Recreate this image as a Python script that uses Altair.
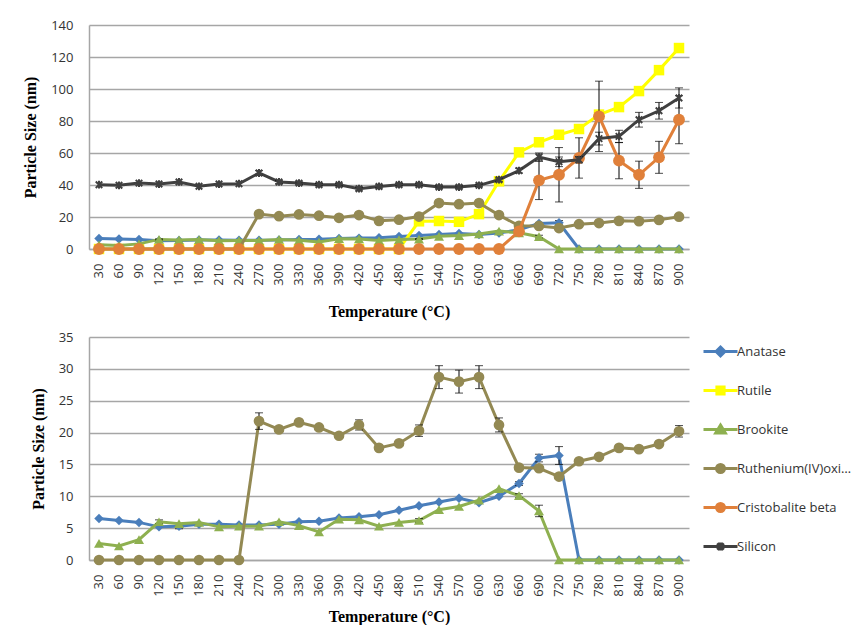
import altair as alt
import pandas as pd

temps = list(range(30, 901, 30))
temp_labels = [str(t) for t in temps]

series_names = ["Anatase", "Rutile", "Brookite", "Ruthenium(IV)oxide", "Cristobalite beta", "Silicon"]
colors = ["#4A7EBB", "#FFFF00", "#8EB050", "#938953", "#E0803A", "#404040"]

anatase = [6.5, 6.2, 5.9, 5.2, 5.3, 5.6, 5.6, 5.5, 5.5, 5.6,
           6.0, 6.1, 6.6, 6.8, 7.1, 7.8, 8.5, 9.1, 9.7, 9.0,
           10.0, 12.0, 16.0, 16.4, 0, 0, 0, 0, 0, 0]
rutile = [0, 0, 0, 0, 0, 0, 0, 0, 0, 0,
          0, 0, 0, 0, 0, 0, 17.3, 17.5, 17.0, 21.8,
          42.3, 60.4, 66.7, 71.4, 75.0, 84.0, 88.7, 98.7, 111.8, 125.6]
brookite = [2.6, 2.2, 3.2, 6.0, 5.7, 5.9, 5.2, 5.3, 5.3, 6.0,
            5.4, 4.4, 6.4, 6.3, 5.3, 5.9, 6.2, 7.9, 8.4, 9.4,
            11.2, 10.1, 7.7, 0, 0, 0, 0, 0, 0, 0]
ruthenium = [0, 0, 0, 0, 0, 0, 0, 0, 21.8, 20.5,
             21.6, 20.8, 19.5, 21.2, 17.6, 18.3, 20.3, 28.7, 28.0, 28.7,
             21.2, 14.5, 14.4, 13.1, 15.5, 16.2, 17.6, 17.4, 18.2, 20.2]
cristobalite = [0, 0, 0, 0, 0, 0, 0, 0, 0, 0,
                0, 0, 0, 0, 0, 0, 0, 0, 0, 0,
                0, 11.0, 42.9, 46.4, 56.9, 82.9, 55.2, 46.4, 57.3, 80.8]
silicon = [40.2, 39.8, 41.2, 40.6, 41.9, 39.2, 40.6, 40.8, 47.5, 41.9,
           41.2, 40.2, 40.2, 37.7, 39.1, 40.2, 40.2, 38.7, 38.7, 39.8,
           43.3, 49.0, 57.5, 54.5, 55.8, 69.0, 70.4, 80.8, 86.4, 94.4]

anatase_err = [0, 0, 0, 0, 0.4, 0, 0, 0, 0, 0,
               0, 0, 0, 0, 0, 0, 0, 0, 0, 0,
               0, 0.3, 0.6, 1.4, 0, 0, 0, 0, 0, 0]
rutile_err = [0] * 30
brookite_err = [0, 0, 0, 0.3, 0, 0, 0, 0, 0, 0,
                0, 0, 0, 0, 0, 0, 0.3, 0, 0, 0,
                0, 0.3, 0.9, 0, 0, 0, 0, 0, 0, 0]
ruthenium_err = [0, 0, 0, 0, 0, 0, 0, 0, 1.3, 0.4,
                 0.3, 0, 0, 0.8, 0, 0, 0.9, 1.8, 1.8, 1.8,
                 1.1, 0, 0, 0, 0, 0, 0, 0, 0, 0.9]
cristobalite_err = [0, 0, 0, 0, 0, 0, 0, 0, 0, 0,
                    0, 0, 0, 0, 0, 0, 0, 0, 0, 0,
                    0, 0, 12.0, 17.0, 12.6, 22.0, 11.3, 8.5, 10.0, 15.0]
silicon_err = [0, 0, 0, 0, 0, 0, 0, 0, 1.5, 1.0,
               0.8, 0.8, 0.8, 1.0, 1.0, 0.8, 0.8, 0.8, 0.8, 0.8,
               1.0, 1.5, 2.5, 3.0, 2.0, 4.0, 3.8, 4.6, 5.2, 6.3]

values = [anatase, rutile, brookite, ruthenium, cristobalite, silicon]
errors = [anatase_err, rutile_err, brookite_err, ruthenium_err, cristobalite_err, silicon_err]

rows = []
for name, vals, errs in zip(series_names, values, errors):
    for t, v, e in zip(temp_labels, vals, errs):
        rows.append({"T": t, "series": name, "value": v, "err": e, "lo": v - e, "hi": v + e})
df = pd.DataFrame(rows)
bottom_series = ["Anatase", "Brookite", "Ruthenium(IV)oxide"]
df_bottom = df[df["series"].isin(bottom_series)]

STAR = "M-1,-1L1,1M-1,1L1,-1M0,-1.2L0,1.2"
marker_shape = ["diamond", "square", "triangle-up", "circle", "circle", STAR]
marker_size = [90, 110, 100, 115, 140, 42]
marker_filled = [True, True, True, True, True, False]

LINE = "M-4.25,0L4.25,0"
legend_paths = [
    LINE + "M0,-1.1L1.1,0L0,1.1L-1.1,0Z",
    LINE + "M-0.9,-0.9L0.9,-0.9L0.9,0.9L-0.9,0.9Z",
    LINE + "M0,-1.1L1.2,0.9L-1.2,0.9Z",
    LINE + "M-1,0A1,1 0 1,0 1,0A1,1 0 1,0 -1,0Z",
    LINE + "M-1,0A1,1 0 1,0 1,0A1,1 0 1,0 -1,0Z",
    LINE + "M-0.8,-0.8L0.8,0.8M-0.8,0.8L0.8,-0.8M0,-1L0,1",
]
legend_y = [8, 47, 86, 125, 164, 203]

GRID = "#A6A6A6"
LABEL_FONT = "Open Sans"
TITLE_FONT = "Liberation Serif"


def make_x(title_pad):
    return alt.X("T:O", scale=alt.Scale(domain=temp_labels),
                 axis=alt.Axis(title="Temperature (\u00b0C)", labelAngle=270, tickSize=0,
                               labelPadding=14, domainColor=GRID, domainWidth=1.5,
                               labelFont=LABEL_FONT, labelFontSize=13, labelColor="#333333",
                               titleFont=TITLE_FONT, titleFontSize=16, titleFontWeight="bold",
                               titleColor="black", titlePadding=title_pad))


def make_y(field, ymax, step):
    return alt.Y(field, type="quantitative", title="Particle Size (nm)",
                 scale=alt.Scale(domain=[0, ymax], nice=False),
                 axis=alt.Axis(values=list(range(0, ymax + 1, step)), tickSize=0, labelPadding=16,
                               grid=True, gridColor=GRID, gridWidth=1.5, domainColor=GRID,
                               domainWidth=1.5, labelFont=LABEL_FONT, labelFontSize=13,
                               labelColor="#333333", titleFont=TITLE_FONT, titleFontSize=16,
                               titleFontWeight="bold", titleColor="black", titlePadding=12))


def series_layers(data, i, ymax, step, title_pad, with_legend, draw=True):
    name = series_names[i]
    color = colors[i]
    base = alt.Chart(data).transform_filter(alt.datum.series == name)
    X = make_x(title_pad)
    layers = []
    if draw:
        layers.append(base.mark_line(color=color, strokeWidth=3).encode(
            x=X, y=make_y("value", ymax, step)))
        eb = base.transform_filter("datum.err > 0")
        layers.append(eb.mark_rule(color="black", strokeWidth=1).encode(
            x=X, y=make_y("lo", ymax, step), y2="hi:Q"))
        layers.append(eb.mark_tick(color="black", size=8, thickness=1).encode(
            x=X, y=make_y("lo", ymax, step)))
        layers.append(eb.mark_tick(color="black", size=8, thickness=1).encode(
            x=X, y=make_y("hi", ymax, step)))
    pt_kwargs = dict(shape=marker_shape[i], size=marker_size[i], filled=marker_filled[i], opacity=1)
    if not marker_filled[i]:
        pt_kwargs["strokeWidth"] = 2
    if with_legend:
        color_enc = alt.Color("series:N", scale=alt.Scale(domain=[name], range=[color]),
                              legend=alt.Legend(orient="none", legendX=625, legendY=legend_y[i],
                                                title=None, symbolType=legend_paths[i],
                                                symbolSize=64, symbolFillColor=color,
                                                symbolStrokeColor=color, symbolStrokeWidth=3,
                                                labelOffset=10, labelFont=LABEL_FONT,
                                                labelFontSize=13, labelColor="#333333",
                                                labelLimit=116, padding=0))
    else:
        color_enc = alt.value(color)
    layers.append(base.mark_point(**pt_kwargs).encode(
        x=X, y=make_y("value", ymax, step), color=color_enc))
    return layers


top_layers = []
for i in range(6):
    top_layers += series_layers(df, i, 140, 20, 18, with_legend=False)
top = alt.layer(*top_layers).properties(width=600, height=224)

bottom_layers = []
for i in range(6):
    bottom_layers += series_layers(df_bottom, i, 35, 5, 12, with_legend=True,
                                   draw=series_names[i] in bottom_series)
bottom = alt.layer(*bottom_layers).resolve_scale(color="independent").properties(width=600, height=223)

chart = (
    alt.vconcat(top, bottom, spacing=11)
    .resolve_scale(color="independent")
    .resolve_legend(color="independent")
    .properties(padding={"left": 14, "top": 11, "right": 0, "bottom": 0}, background="white")
    .configure_view(stroke=None)
)

chart.save("out.html", embed_options={"renderer": "svg", "actions": False})
